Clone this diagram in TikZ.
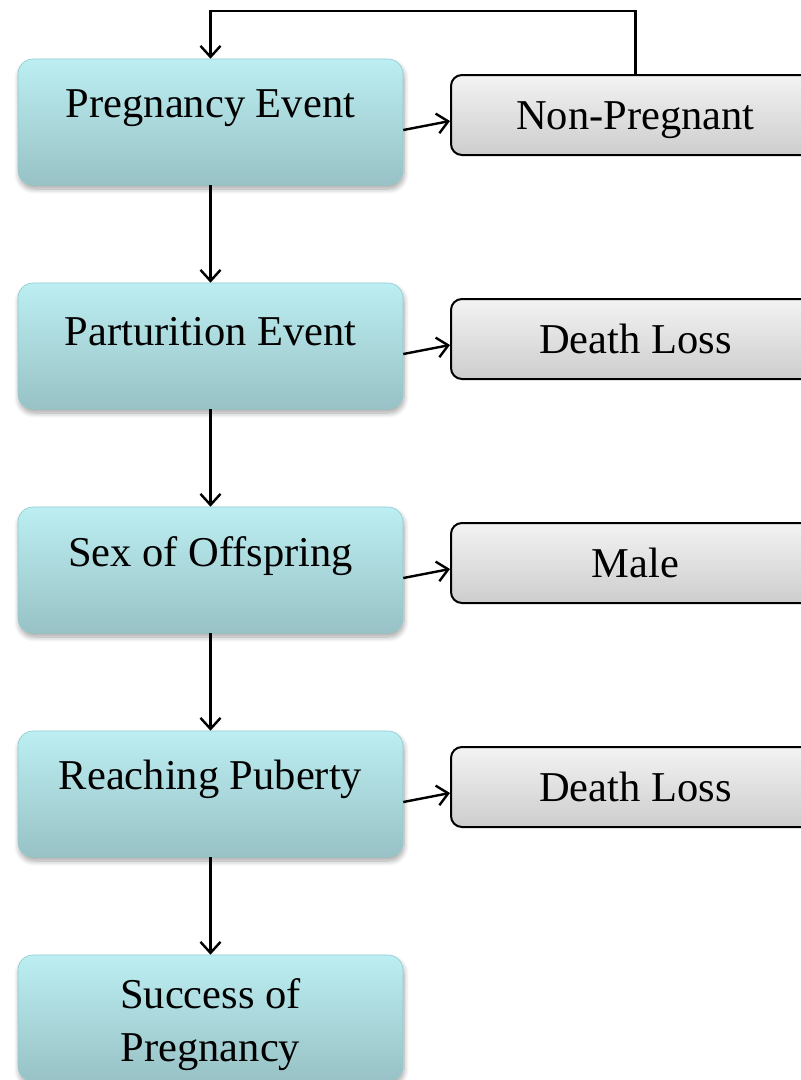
\documentclass[tikz,border=0pt]{standalone}
\usepackage{fontspec}
\setmainfont{Liberation Serif}
\usetikzlibrary{arrows.meta,shadows.blur,calc}
\definecolor{bluetop}{HTML}{BCEEF2}
\definecolor{bluebot}{HTML}{98C2C5}
\definecolor{blueedge}{HTML}{8FCBD0}
\definecolor{greytop}{HTML}{F3F3F3}
\definecolor{greybot}{HTML}{CDCDCD}
\tikzset{
  stagebox/.style={rounded corners=15pt, minimum width=385pt, minimum height=126pt,
    top color=bluetop, bottom color=bluebot, draw=blueedge, line width=0.6pt,
    blur shadow={shadow xshift=1pt, shadow yshift=-4pt, shadow blur steps=8, shadow blur radius=5pt, shadow opacity=35},
    inner sep=0pt},
  stagetext/.style={font=\fontsize{42.5}{53}\selectfont, align=center, inner sep=0pt},
  outbox/.style={rounded corners=11pt, minimum width=369pt, minimum height=80pt,
    top color=greytop, bottom color=greybot, draw=black, line width=2pt,
    font=\fontsize{42.5}{50}\selectfont, inner sep=0pt, text height=38pt, text depth=9pt},
  flow/.style={line width=2.4pt, -{Straight Barb[length=11pt, width=20pt, line width=2.4pt]}}
}
\begin{document}
\begin{tikzpicture}[x=1pt, y=-1pt]
\useasboundingbox (0,0) rectangle (801,1080);
\clip (0,0) rectangle (801,1080);
% main sequence of stages
\node[stagebox] (b1) at (210.5,122) {};
\node[stagebox] (b2) at (210.5,346) {};
\node[stagebox] (b3) at (210.5,570) {};
\node[stagebox] (b4) at (210.5,794) {};
\node[stagebox] (b5) at (210.5,1018) {};
\node[stagetext] (t1) at ([yshift=-49pt]b1.north) {Pregnancy Event};
\node[stagetext] (t2) at ([yshift=-49pt]b2.north) {Parturition Event};
\node[stagetext] (t3) at ([yshift=-49pt]b3.north) {Sex of Offspring};
\node[stagetext] (t4) at ([yshift=-49pt]b4.north) {Reaching Puberty};
\node[stagetext] (t5) at ([yshift=-70pt]b5.north) {Success of\\Pregnancy};
% side outcomes
\node[outbox] (g1) at (635.5,115) {Non-Pregnant};
\node[outbox] (g2) at (635.5,339) {Death Loss};
\node[outbox] (g3) at (635.5,563) {Male};
\node[outbox] (g4) at (635.5,787) {Death Loss};
% downward flow
\draw[flow] (b1.south) -- (b2.north);
\draw[flow] (b2.south) -- (b3.north);
\draw[flow] (b3.south) -- (b4.north);
\draw[flow] (b4.south) -- (b5.north);
% branches to outcomes
\foreach \i in {1,2,3,4}
  \draw[flow] ([yshift=-8pt]b\i.east) -- ([yshift=-6pt]g\i.west);
% loop back from non-pregnant
\coordinate (top) at (0,11);
\draw[flow] (g1.north) |- (top -| b1.north) -- (b1.north);
\end{tikzpicture}
\end{document}
